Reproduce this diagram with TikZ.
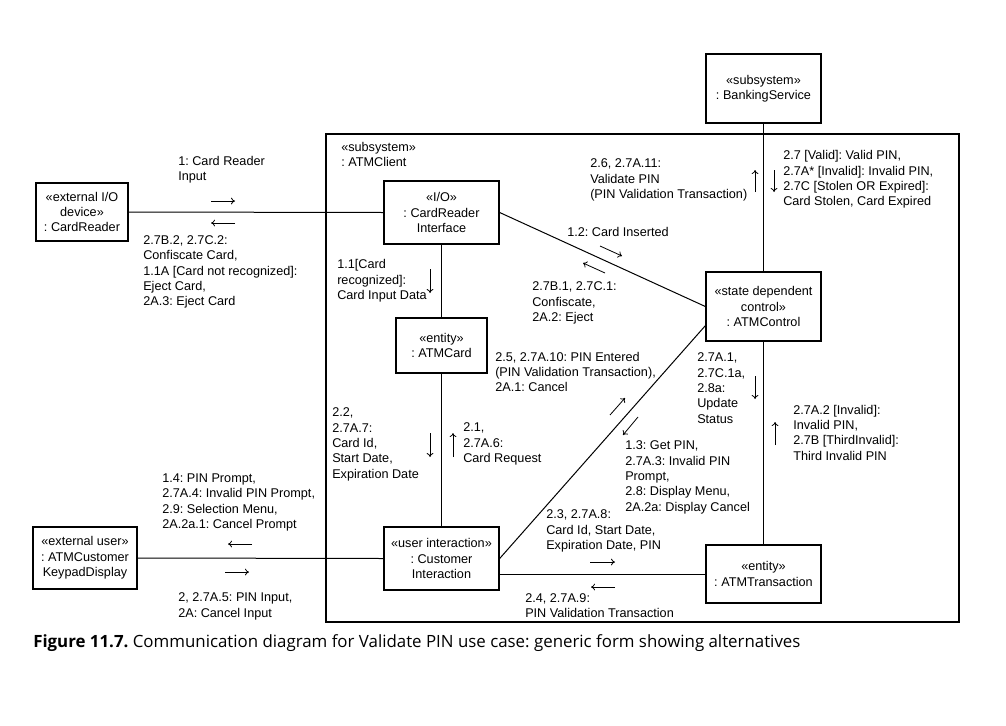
\documentclass[tikz,border=0pt]{standalone}
\usepackage{fontspec}
\setmainfont{Liberation Sans}
\newfontfamily\capfont{Open Sans}
\usetikzlibrary{arrows.meta,calc}
\frenchspacing
\begin{document}
\begin{tikzpicture}[x=0.75pt,y=-0.75pt,
 font=\fontsize{9.5}{11.5}\selectfont,
 obj/.style={draw,line width=1pt,align=center,inner sep=0pt,fill=white},
 lbl/.style={anchor=west,align=left,inner sep=0pt},
 link/.style={line width=0.75pt},
 msg/.style={line width=0.6pt,-{To[length=3pt,width=5pt]}}]
\useasboundingbox (0,0) rectangle (1006,725);
\fill[white] (0,0) rectangle (1006,725);
% subsystem frame
\draw[line width=1pt] (326,134) rectangle (959,622);
\node[lbl] (clientlbl) at (341,154.5) {«subsystem»\\: ATMClient};
% objects
\node[obj,minimum width=69pt,minimum height=43.5pt] (cr) at (82,212) {«external I/O\\device»\\: CardReader};
\node[obj,minimum width=86.25pt,minimum height=47.25pt] (cri) at (441.5,212.5) {«I/O»\\: CardReader\\Interface};
\node[obj,minimum width=86.25pt,minimum height=51.75pt] (bank) at (763.5,88.5) {«subsystem»\\: BankingService};
\node[obj,minimum width=86.25pt,minimum height=51.75pt] (ctrl) at (763.5,306.5) {«state dependent\\control»\\: ATMControl};
\node[obj,minimum width=68.25pt,minimum height=41.25pt] (card) at (441.5,345.5) {«entity»\\: ATMCard};
\node[obj,minimum width=86.25pt,minimum height=47.25pt] (ci) at (441.5,558.5) {«user interaction»\\: Customer\\Interaction};
\node[obj,minimum width=86.25pt,minimum height=43.5pt] (tr) at (763.5,574) {«entity»\\: ATMTransaction};
\node[obj,minimum width=78pt,minimum height=46.5pt] (kp) at (85,558) {«external user»\\: ATMCustomer\\KeypadDisplay};
% links
\draw[link] (cr.east) -- (cri.west);
\draw[link] (cri.south) -- (card.north);
\draw[link] (card.south) -- (ci.north);
\draw[link] (cri.east) -- (ctrl.west);
\draw[link] (bank.south) -- (ctrl.north);
\draw[link] (ctrl.south) -- (tr.north);
\draw[link] (ci.east) -- ($(ctrl.south west)+(0,-16)$);
\draw[link] (ci.east |- tr.west) -- (tr.west);
\draw[link] (kp.east) -- (ci.west);
% messages: CardReader <-> CRI
\node[lbl] (m1) at (178,170) {1: Card Reader\\Input};
\draw[msg] (211,201) -- (235,201);
\draw[msg] (235,223) -- (211,223);
\node[lbl] (m2) at (143,272) {2.7B.2, 2.7C.2:\\Confiscate Card,\\1.1A [Card not recognized]:\\Eject Card,\\2A.3: Eject Card};
% CRI -> ATMCard
\node[lbl] (m3) at (337,281) {1.1[Card\\recognized]:\\Card Input Data};
\draw[msg] (430,269) -- (430,293);
% ATMControl <-> Banking
\node[lbl] (m4) at (590,180) {2.6, 2.7A.11:\\Validate PIN\\(PIN Validation Transaction)};
\draw[msg] (755,192) -- (755,170);
\draw[msg] (774,170) -- (774,192);
\node[lbl] (m5) at (783,179.5) {2.7 [Valid]: Valid PIN,\\2.7A* [Invalid]: Invalid PIN,\\2.7C [Stolen OR Expired]:\\Card Stolen, Card Expired};
% CRI <-> ATMControl
\node[lbl] (m6) at (567,232) {1.2: Card Inserted};
\draw[msg] (600,246) -- (622,256);
\draw[msg] (605,273) -- (583,263);
\node[lbl] (m7) at (532,303) {2.7B.1, 2.7C.1:\\Confiscate,\\2A.2: Eject};
% CI <-> ATMControl
\node[lbl] (m8) at (495,372) {2.5, 2.7A.10: PIN Entered\\(PIN Validation Transaction),\\2A.1: Cancel};
\draw[msg] (610,415) -- (625,398);
\draw[msg] (638,417) -- (623,435);
\node[lbl] (m9) at (625,477.5) {1.3: Get PIN,\\2.7A.3: Invalid PIN\\Prompt,\\2.8: Display Menu,\\2A.2a: Display Cancel};
% ATMControl <-> ATMTransaction
\node[lbl] (m10) at (697,388) {2.7A.1,\\2.7C.1a,\\2.8a:\\Update\\Status};
\draw[msg] (755,376) -- (755,399);
\draw[msg] (775,445) -- (775,422);
\node[lbl] (m11) at (793,432.5) {2.7A.2 [Invalid]:\\Invalid PIN,\\2.7B [ThirdInvalid]:\\Third Invalid PIN};
% ATMCard <-> CI
\node[lbl] (m12) at (332,444.5) {2.2,\\2.7A.7:\\Card Id,\\Start Date,\\Expiration Date};
\draw[msg] (430,433) -- (430,457);
\draw[msg] (453,457) -- (453,433);
\node[lbl] (m13) at (463,444) {2.1,\\2.7A.6:\\Card Request};
% CI <-> ATMTransaction
\node[lbl] (m14) at (546,531) {2.3, 2.7A.8:\\Card Id, Start Date,\\Expiration Date, PIN};
\draw[msg] (590,562) -- (615,562);
\draw[msg] (615,587) -- (591,587);
\node[lbl] (m15) at (525,605.5) {2.4, 2.7A.9:\\PIN Validation Transaction};
% Keypad <-> CI
\node[lbl] (m16) at (162,502.5) {1.4: PIN Prompt,\\2.7A.4: Invalid PIN Prompt,\\2.9: Selection Menu,\\2A.2a.1: Cancel Prompt};
\draw[msg] (252,544) -- (228,544);
\draw[msg] (225,572) -- (249,572);
\node[lbl] (m17) at (178,606.5) {2, 2.7A.5: PIN Input,\\2A: Cancel Input};
% caption
\node[lbl,font=\capfont\fontsize{12.65}{14}\selectfont] (cap) at (33,643) {\textbf{Figure 11.7.} Communication diagram for Validate PIN use case: generic form showing alternatives};
\end{tikzpicture}
\end{document}
